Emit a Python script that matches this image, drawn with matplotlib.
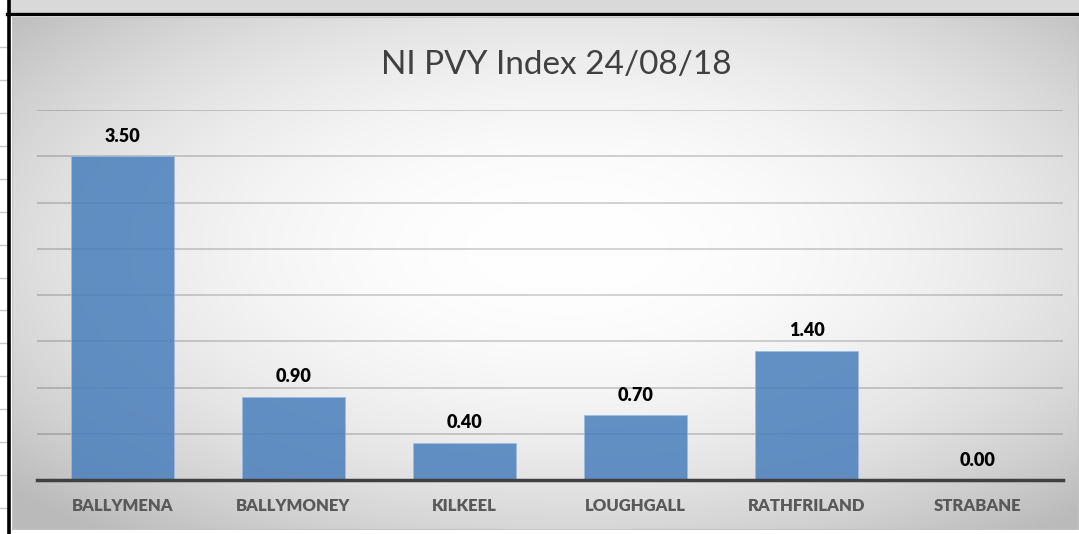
import numpy as np
import matplotlib
matplotlib.use("Agg")
import matplotlib.pyplot as plt
from matplotlib.patches import Rectangle
from matplotlib.lines import Line2D
from matplotlib import font_manager

categories = ["BALLYMENA", "BALLYMONEY", "KILKEEL", "LOUGHGALL", "RATHFRILAND", "STRABANE"]
values = [3.50, 0.90, 0.40, 0.70, 1.40, 0.00]
title = "NI PVY Index 24/08/18"
y_max = 4.0
y_step = 0.5

W, H = 1079, 534
plt.rcParams['font.family'] = ['Lato', 'DejaVu Sans']
fig = plt.figure(figsize=(W / 100, H / 100), dpi=100)
fig.patch.set_facecolor('white')

lato_weights = {str(f.weight) for f in font_manager.fontManager.ttflist if f.name == 'Lato'}
heavy = 'heavy' if lato_weights & {'800', '900', 'heavy', 'black'} else 'bold'

def fx(x):
    return x / W

def fy(y):
    return 1 - y / H

# spreadsheet frame decorations
fig.add_artist(Rectangle((fx(10), fy(13)), fx(W - 10), 13 / H, transform=fig.transFigure,
                         facecolor='#d9d9d9', edgecolor='none', zorder=0))
for k in range(15):
    yy = 47 + 32.93 * k
    fig.add_artist(Line2D([0, fx(7)], [fy(yy), fy(yy)], transform=fig.transFigure,
                          color='#c8c8c8', lw=1, zorder=1))

# chart area with radial gradient
x0, y0, x1, y1 = 12, 17, 1079, 530
ax_bg = fig.add_axes([fx(x0), fy(y1), fx(x1 - x0), (y1 - y0) / H])
ax_bg.set_axis_off()
gx = np.linspace(0, 1, 540)
gy = np.linspace(0, 1, 260)
GX, GY = np.meshgrid(gx, gy)
cx, cy = 0.52, 0.45
r = np.sqrt(((GX - cx) / 0.5) ** 2 + ((GY - cy) / 0.5) ** 2) / np.sqrt(2)
v = 1 - 0.27 * np.clip(r, 0, 1) ** 2.1
img = np.dstack([v, v, v])
ax_bg.imshow(img, aspect='auto', extent=[0, 1, 1, 0], interpolation='bilinear')
ax_bg.set_xlim(0, 1)
ax_bg.set_ylim(1, 0)
ax_bg.add_patch(Rectangle((0, 0), 1, 1, transform=ax_bg.transAxes, fill=False,
                          edgecolor='#c4c4c4', lw=1.5))

# main axes
ax = fig.add_axes([fx(37), fy(480), fx(1063 - 37), (480 - 110) / H])
ax.set_facecolor('none')
xpos = np.arange(len(categories))
ax.bar(xpos, values, width=0.6, color='#4a7fbc', alpha=0.85,
       edgecolor='#9dbbe0', linewidth=0.6, zorder=3)
ax.set_xlim(-0.5, len(categories) - 0.5)
ax.set_ylim(0, y_max)
ax.set_yticks(np.arange(y_step, y_max + 0.01, y_step))
ax.yaxis.grid(True, color='black', alpha=0.18, lw=1.3, zorder=1)
ax.set_axisbelow(True)
ax.tick_params(axis='y', left=False, labelleft=False)
ax.set_xticks(xpos)
ax.set_xticklabels(categories, fontsize=12, fontweight=heavy, color='#595959')
ax.tick_params(axis='x', length=0, pad=13)
for s in ['top', 'right', 'left']:
    ax.spines[s].set_visible(False)
ax.spines['bottom'].set_color('#404040')
ax.spines['bottom'].set_linewidth(2.5)
ax.spines['bottom'].set_zorder(5)

for xi, val in zip(xpos, values):
    ax.annotate(f"{val:.2f}", xy=(xi, val), xytext=(0, 14.4), textcoords='offset points',
                ha='center', va='center', fontsize=13, fontweight=heavy, color='black',
                zorder=6)

fig.text(fx(556), fy(65), title, ha='center', va='center', fontsize=24, color='#404040')

# black frame lines
fig.add_artist(Line2D([fx(8.5), fx(8.5)], [0, 1], transform=fig.transFigure,
                      color='black', lw=2.6, zorder=10))
fig.add_artist(Line2D([fx(7), 1], [fy(14), fy(14)], transform=fig.transFigure,
                      color='black', lw=2.4, zorder=10))

fig.savefig('out.png', dpi=100)
